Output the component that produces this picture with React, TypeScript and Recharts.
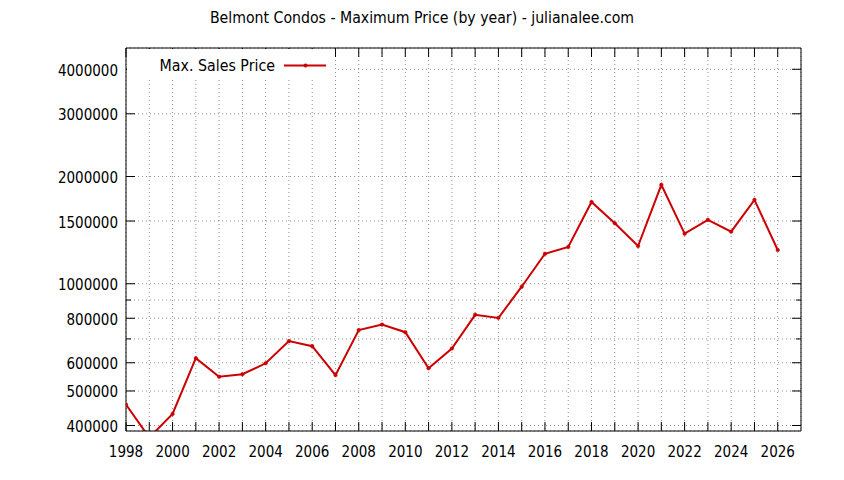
import { LineChart, Line, XAxis, YAxis, CartesianGrid, Legend } from 'recharts'

const YEARS = [1998, 1999, 2000, 2001, 2002, 2003, 2004, 2005, 2006, 2007, 2008, 2009, 2010, 2011, 2012, 2013, 2014, 2015, 2016, 2017, 2018, 2019, 2020, 2021, 2022, 2023, 2024, 2025, 2026]
const MAX_PRICE = [458000, 370000, 431000, 618000, 548000, 557000, 598000, 690000, 668000, 554000, 741000, 768000, 731000, 579000, 658000, 818000, 802000, 981000, 1214000, 1268000, 1697000, 1478000, 1276000, 1895000, 1382000, 1511000, 1400000, 1720000, 1244000]

const X_TICKS = [1998, 1999, 2000, 2001, 2002, 2003, 2004, 2005, 2006, 2007, 2008, 2009, 2010, 2011, 2012, 2013, 2014, 2015, 2016, 2017, 2018, 2019, 2020, 2021, 2022, 2023, 2024, 2025, 2026]
const X_LABELS = [1998, 2000, 2002, 2004, 2006, 2008, 2010, 2012, 2014, 2016, 2018, 2020, 2022, 2024, 2026]
const Y_TICKS = [400000, 500000, 600000, 700000, 800000, 900000, 1000000, 1500000, 2000000, 3000000, 4000000]
const Y_LABELS = [400000, 500000, 600000, 800000, 1000000, 1500000, 2000000, 3000000, 4000000]

const TITLE = 'Belmont Condos - Maximum Price (by year) - julianalee.com'
const SERIES_NAME = 'Max. Sales Price'

const data = YEARS.map((year, i) => ({ year, price: MAX_PRICE[i] }))

const FONT = "'DejaVu Sans Condensed', 'DejaVu Sans', sans-serif"
const RED = '#cc0000'

const BottomTick = (props: any) => {
       const { x, y, payload } = props
       const major = X_LABELS.includes(payload.value)
       return (
              <g>
                     <line x1={x} x2={x} y1={y} y2={y - 9} stroke="#000" />
                     {major && <text x={x} y={y + 26} textAnchor="middle" fontFamily={FONT} fontSize={15} fill="#000">{payload.value}</text>}
              </g>
       )
}

const TopTick = (props: any) => {
       const { x, y } = props
       return <line x1={x} x2={x} y1={y} y2={y + 9} stroke="#000" />
}

const LeftTick = (props: any) => {
       const { x, y, payload } = props
       const major = Y_LABELS.includes(payload.value)
       return (
              <g>
                     <line x1={x + 8} x2={x + 8 + (major ? 9 : 5)} y1={y} y2={y} stroke="#000" />
                     {major && <text x={x} y={y + 6.5} textAnchor="end" fontFamily={FONT} fontSize={15} fill="#000">{payload.value}</text>}
              </g>
       )
}

const RightTick = (props: any) => {
       const { x, y, payload } = props
       const major = Y_LABELS.includes(payload.value)
       return <line x1={x} x2={x - (major ? 9 : 5)} y1={y} y2={y} stroke="#000" />
}

const LegendBox = () => (
       <svg width={208} height={30} style={{ display: 'block', background: '#fff' }}>
              <text x={148} y={22} textAnchor="end" fontFamily={FONT} fontSize={15.8} fill="#000">{SERIES_NAME}</text>
              <line x1={157} x2={199} y1={16.5} y2={16.5} stroke={RED} strokeWidth={2} />
              <circle cx={178.5} cy={16.5} r={2} fill={RED} />
       </svg>
)

export default function App() {
       return (
              <div style={{ position: 'absolute', left: 0, top: 0, width: 844, height: 480, background: '#fff' }}>
                     <div style={{ position: 'absolute', left: 0, top: 8, width: 844, textAlign: 'center', fontFamily: FONT, fontSize: 15.7, color: '#000' }}>
                            {TITLE}
                     </div>
                     <LineChart width={844} height={480} data={data} margin={{ top: 47, right: 42, left: 0, bottom: 0 }}>
                            <CartesianGrid strokeDasharray="1 3" stroke="#909090" />
                            <XAxis
                                   dataKey="year"
                                   type="number"
                                   domain={[1998, 2027]}
                                   ticks={X_TICKS}
                                   interval={0}
                                   height={49}
                                   tickSize={0}
                                   tickMargin={0}
                                   tickLine={false}
                                   tick={<BottomTick />}
                                   axisLine={{ stroke: '#000' }}
                                   allowDataOverflow
                            />
                            <XAxis
                                   xAxisId="top"
                                   orientation="top"
                                   dataKey="year"
                                   type="number"
                                   domain={[1998, 2027]}
                                   ticks={X_TICKS}
                                   interval={0}
                                   height={1}
                                   tickSize={0}
                                   tickMargin={0}
                                   tickLine={false}
                                   tick={<TopTick />}
                                   axisLine={{ stroke: '#000' }}
                                   allowDataOverflow
                            />
                            <YAxis
                                   scale="log"
                                   domain={[386000, 4590000]}
                                   ticks={Y_TICKS}
                                   interval={0}
                                   width={126}
                                   tickSize={0}
                                   tickMargin={8}
                                   tickLine={false}
                                   tick={<LeftTick />}
                                   axisLine={{ stroke: '#000' }}
                                   allowDataOverflow
                            />
                            <YAxis
                                   yAxisId="right"
                                   orientation="right"
                                   scale="log"
                                   domain={[386000, 4590000]}
                                   ticks={Y_TICKS}
                                   interval={0}
                                   width={1}
                                   tickSize={0}
                                   tickMargin={0}
                                   tickLine={false}
                                   tick={<RightTick />}
                                   axisLine={{ stroke: '#000' }}
                                   allowDataOverflow
                            />
                            <Legend
                                   layout="vertical"
                                   align="center"
                                   verticalAlign="middle"
                                   content={() => <LegendBox />}
                                   wrapperStyle={{ left: 127, top: 49, width: 208, height: 30, transform: 'none' }}
                            />
                            <Line
                                   type="linear"
                                   dataKey="price"
                                   name={SERIES_NAME}
                                   stroke={RED}
                                   strokeWidth={2}
                                   dot={{ r: 1.8, fill: RED, stroke: RED, strokeWidth: 0.5 }}
                                   activeDot={false}
                                   isAnimationActive={false}
                            />
                     </LineChart>
              </div>
       )
}
